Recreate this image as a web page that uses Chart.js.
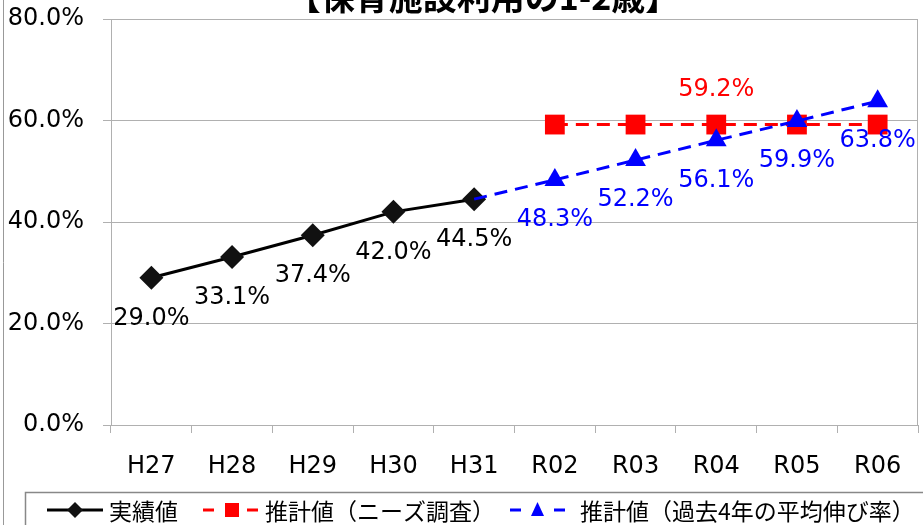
<!DOCTYPE html>
<html><head><meta charset="utf-8">
<script src="https://cdn.jsdelivr.net/npm/chart.js@4.4.0/dist/chart.umd.min.js"></script>
<style>html,body{margin:0;padding:0;background:#fff;overflow:hidden}#wrap{width:923px;height:525px;position:relative}canvas{display:block}</style>
</head><body><div id="wrap"><canvas id="c"></canvas></div>
<script>
const categories = ['H27','H28','H29','H30','H31','R02','R03','R04','R05','R06'];
const actualValues = [29.0, 33.1, 37.4, 42.0, 44.5, null, null, null, null, null];
const needsSurveyValues = [null, null, null, null, null, 59.2, 59.2, 59.2, 59.2, 59.2];
const growthRateValues = [null, null, null, null, 44.5, 48.3, 52.2, 56.1, 59.9, 63.8];
const yTickValues = [0, 20, 40, 60, 80];
const seriesNames = ['実績値', '推計値（ニーズ調査）', '推計値（過去4年の平均伸び率）'];
const titleText = '【保育施設利用の1-2歳】';
const actualLabelIdx = [0, 1, 2, 3, 4];
const needsLabelIdx = [7];
const growthLabelIdx = [5, 6, 7, 8, 9];

const LABEL_FONT = '24px "DejaVu Sans"';
const GRID = '#b0b0b0';

const deco = {
  id: 'deco',
  afterDatasetsDraw(chart) {
    const ctx = chart.ctx;
    ctx.save();
    ctx.font = LABEL_FONT;
    ctx.textAlign = 'center';
    ctx.textBaseline = 'middle';
    const put = (dsIdx, idxs, vals, color, dy) => {
      const meta = chart.getDatasetMeta(dsIdx);
      ctx.fillStyle = color;
      idxs.forEach(i => {
        const p = meta.data[i];
        ctx.fillText(vals[i].toFixed(1) + '%', p.x, p.y + dy);
      });
    };
    put(0, actualLabelIdx, actualValues, '#000', 41);
    put(1, needsLabelIdx, needsSurveyValues, '#ff0000', -35);
    put(2, growthLabelIdx, growthRateValues, '#0000ff', 40);
    ctx.restore();
  },
  afterDraw(chart) {
    const ctx = chart.ctx;
    const a = chart.chartArea;
    ctx.save();
    ctx.strokeStyle = GRID; ctx.lineWidth = 1;
    ctx.beginPath(); ctx.moveTo(Math.round(a.right) - 0.5, a.top); ctx.lineTo(Math.round(a.right) - 0.5, a.bottom); ctx.stroke();
    ctx.strokeStyle = '#999';
    ctx.beginPath(); ctx.moveTo(3.5, 0); ctx.lineTo(3.5, 525); ctx.stroke();
    ctx.fillStyle = '#000';
    ctx.font = 'bold 34px "Noto Sans CJK JP"';
    ctx.textAlign = 'center';
    ctx.textBaseline = 'alphabetic';
    ctx.fillText(titleText, 483, 10);
    ctx.strokeStyle = '#888'; ctx.lineWidth = 1.5;
    ctx.strokeRect(25.5, 492.5, 940, 60);
    const ly = 510;
    ctx.font = '23px "Noto Sans CJK JP"';
    ctx.textAlign = 'left';
    ctx.textBaseline = 'middle';
    ctx.strokeStyle = '#000'; ctx.lineWidth = 3; ctx.setLineDash([]);
    ctx.beginPath(); ctx.moveTo(47, ly); ctx.lineTo(103, ly); ctx.stroke();
    ctx.fillStyle = '#111';
    ctx.beginPath(); ctx.moveTo(75 - 8, ly); ctx.lineTo(75, ly - 8); ctx.lineTo(75 + 8, ly); ctx.lineTo(75, ly + 8); ctx.closePath(); ctx.fill();
    ctx.fillStyle = '#000';
    ctx.fillText(seriesNames[0], 109, ly + 1);
    ctx.strokeStyle = '#ff0000';
    ctx.beginPath(); ctx.moveTo(203, ly); ctx.lineTo(214, ly); ctx.moveTo(247, ly); ctx.lineTo(258, ly); ctx.stroke();
    ctx.fillStyle = '#ff0000';
    ctx.fillRect(225, ly - 7, 14, 14);
    ctx.fillStyle = '#000';
    ctx.fillText(seriesNames[1], 265, ly + 1);
    ctx.strokeStyle = '#0000ff';
    ctx.beginPath(); ctx.moveTo(510, ly); ctx.lineTo(521, ly); ctx.moveTo(554, ly); ctx.lineTo(565, ly); ctx.stroke();
    ctx.fillStyle = '#0000ff';
    ctx.beginPath(); ctx.moveTo(537.5, ly - 8); ctx.lineTo(544, ly + 6); ctx.lineTo(531, ly + 6); ctx.closePath(); ctx.fill();
    ctx.fillStyle = '#000';
    ctx.fillText(seriesNames[2], 580, ly + 1);
    ctx.restore();
  }
};

new Chart(document.getElementById('c'), {
  type: 'line',
  data: {
    labels: categories,
    datasets: [
      { label: seriesNames[0], data: actualValues, borderColor: '#000', backgroundColor: '#111', borderWidth: 3,
        pointStyle: 'rectRot', pointRadius: 12, pointBorderWidth: 0, order: 3, spanGaps: false },
      { label: seriesNames[1], data: needsSurveyValues, borderColor: '#ff0000', backgroundColor: '#ff0000', borderWidth: 3,
        borderDash: [13, 8], pointStyle: 'rect', pointRadius: 14, pointBorderWidth: 0, order: 2 },
      { label: seriesNames[2], data: growthRateValues, borderColor: '#0000ff', backgroundColor: '#0000ff', borderWidth: 3,
        borderDash: [13, 8], pointStyle: 'triangle', pointRadius: [0, 0, 0, 0, 0, 12, 12, 12, 12, 12], pointBorderWidth: 0, order: 1 }
    ]
  },
  options: {
    responsive: true, maintainAspectRatio: false, animation: false, devicePixelRatio: 1,
    layout: { autoPadding: false, padding: { top: 19, right: 5, left: 0, bottom: 0 } },
    plugins: { legend: { display: false }, tooltip: { enabled: false }, title: { display: false } },
    elements: { line: { tension: 0 } },
    scales: {
      x: {
        offset: true,
        grid: { display: true, offset: true, drawOnChartArea: false, drawTicks: true, tickLength: 8, color: GRID },
        border: { display: true, color: GRID },
        ticks: { font: { family: 'DejaVu Sans', size: 24 }, color: '#000', padding: 19, maxRotation: 0, autoSkip: false },
        afterFit: s => { s.height = 100; s.paddingLeft = 0; s.paddingRight = 0; }
      },
      y: {
        min: 0, max: 80,
        afterBuildTicks: s => { s.ticks = yTickValues.map(v => ({ value: v })); },
        grid: { color: GRID, tickLength: 8, drawTicks: true },
        border: { display: true, color: GRID },
        ticks: { font: { family: 'DejaVu Sans', size: 24 }, color: '#000', padding: 19,
          callback: v => Number(v).toFixed(1) + '%' },
        afterFit: s => { s.width = 111; s.paddingTop = 0; s.paddingBottom = 0; }
      }
    }
  },
  plugins: [deco]
});
</script>
</body></html>
